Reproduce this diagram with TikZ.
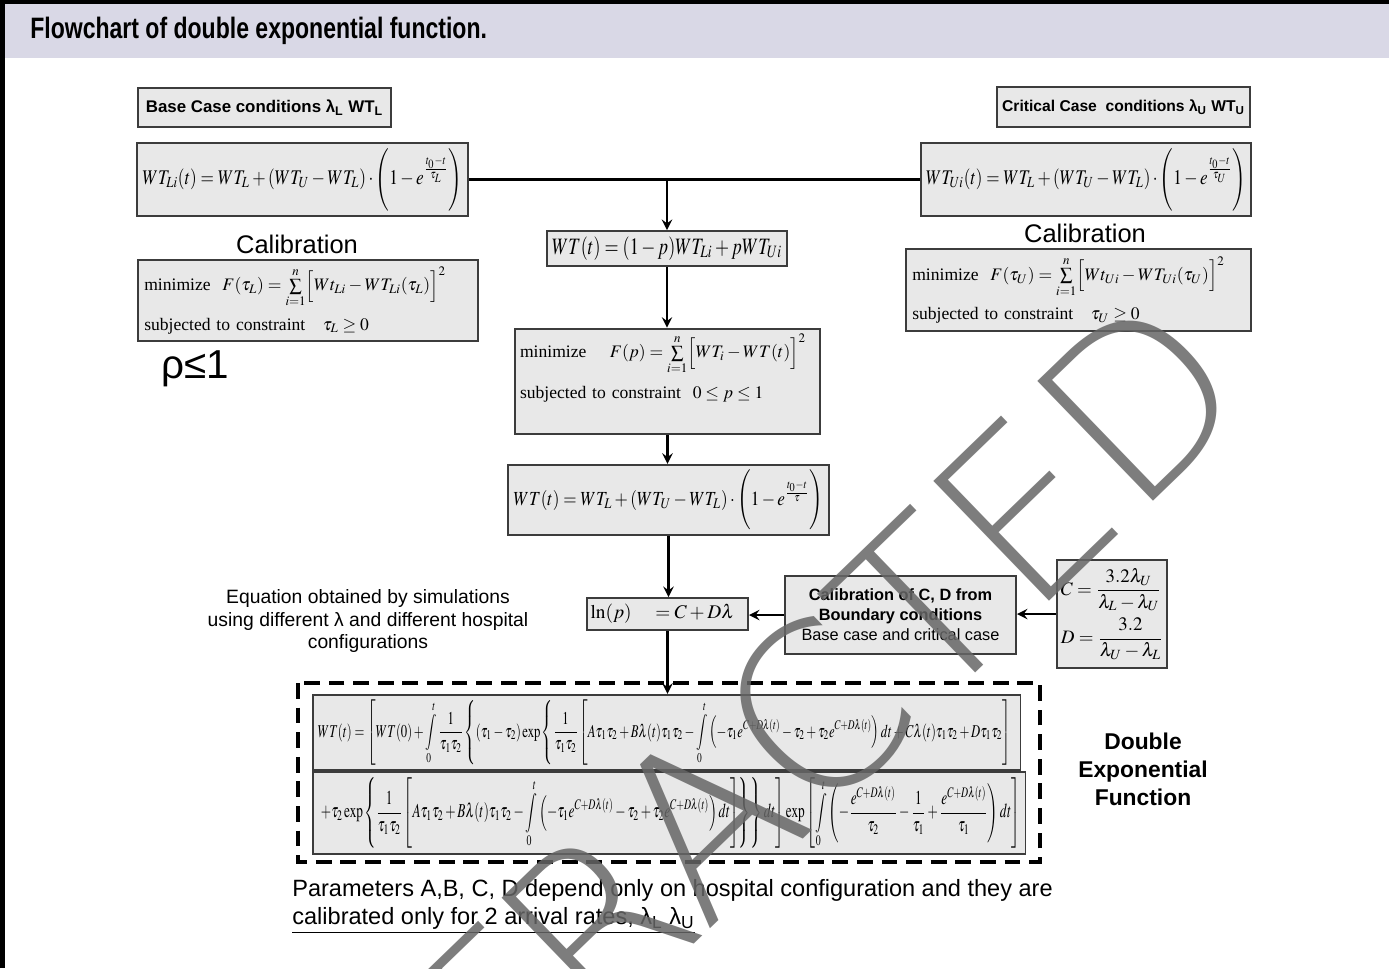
\documentclass[tikz,border=0pt]{standalone}
\usepackage{amsmath}
\usepackage{mathptmx}
\usepackage[no-math]{fontspec}
\usepackage{graphicx}
\setmainfont{Liberation Sans}
\newfontfamily\timesf{Liberation Serif}
\newfontfamily\titlef[FakeStretch=0.78]{Liberation Sans}
\IfFontExistsTF{DejaVu Sans ExtraLight}{\newfontfamily\stampf{DejaVu Sans ExtraLight}}{\newfontfamily\stampf{DejaVu Sans}}
\tikzset{>=stealth}
\definecolor{boxgray}{RGB}{232,232,232}
\definecolor{edgegray}{RGB}{60,60,60}
\definecolor{bandblue}{RGB}{217,216,230}

\begin{document}
\begin{tikzpicture}[x=0.02cm, y=-0.02cm,
    box/.style 2 args={draw=edgegray, fill=boxgray, line width=1.1pt,
        minimum width=#1*0.02cm, minimum height=#2*0.02cm, inner sep=3pt},
    flow/.style={->, line width=1.6pt},
    link/.style={line width=1.6pt},
    note/.style={align=center}]
    \useasboundingbox (0,0) rectangle (1389,968);
    \fill[bandblue] (4,4) rectangle (1389,58);
    \draw[line width=2.6pt] (2.5,968) -- (2.5,2) -- (1389,2);
    \node[anchor=west, inner sep=0pt, font=\titlef\bfseries\fontsize{16.8}{19}\selectfont] (title) at (30,31) {Flowchart of double exponential function.};

    % base case side
    \node[box={253}{39}, font=\bfseries\fontsize{9.6}{11}\selectfont] (base) at (264.5,107.5) {Base Case conditions λ\textsubscript{L} WT\textsubscript{L}};
    \node[box={329}{73}] (wtl) at (302.5,179.5) {\resizebox*{6.4cm}{1.25cm}{$\displaystyle WT_{Li}(t)=WT_L+(WT_U-WT_L)\cdot\Biggl(1-e^{\frac{t_0-t}{\tau_L}}\Biggr)$}};
    \node[font=\fontsize{14.5}{17}\selectfont] (calL) at (297,244) {Calibration};
    \node[box={340}{81}, align=left, text width=6.55cm, font=\timesf\fontsize{10}{12}\selectfont] (minL) at (308,300.5) {minimize\ \ $F(\tau_L)=\sum\limits_{i=1}^{n}\Bigl[Wt_{Li}-WT_{Li}(\tau_L)\Bigr]^2$\\[5pt]subjected to constraint\ \ \ $\tau_L\ge 0$};
    \node[font=\fontsize{23}{26}\selectfont] (rho) at (195,369) {ρ≤1};

    % critical case side
    \node[box={253}{40}, inner xsep=2pt, font=\bfseries\fontsize{8.9}{11}\selectfont] (crit) at (1123.5,107) {Critical Case\ \ conditions λ\textsubscript{U} WT\textsubscript{U}};
    \node[box={330}{73}] (wtu) at (1086,179.5) {\resizebox*{6.4cm}{1.25cm}{$\displaystyle WT_{Ui}(t)=WT_L+(WT_U-WT_L)\cdot\Biggl(1-e^{\frac{t_0-t}{\tau_U}}\Biggr)$}};
    \node[font=\fontsize{14.5}{17}\selectfont] (calR) at (1085,233) {Calibration};
    \node[box={345}{82}, align=left, text width=6.65cm, font=\timesf\fontsize{10}{12}\selectfont] (minU) at (1078.5,290) {minimize\ \ $F(\tau_U)=\sum\limits_{i=1}^{n}\Bigl[Wt_{Ui}-WT_{Ui}(\tau_U)\Bigr]^2$\\[5pt]subjected to constraint\ \ \ $\tau_U\ge 0$};

    % middle column
    \node[box={240}{35}] (mix) at (667,248.5) {\resizebox*{4.6cm}{0.47cm}{$WT(t)=(1-p)WT_{Li}+pWT_{Ui}$}};
    \node[box={305}{105}, align=left, text width=5.9cm, font=\timesf\fontsize{10}{12}\selectfont] (minp) at (667.5,381.5) {minimize\quad\ $F(p)=\sum\limits_{i=1}^{n}\Bigl[WT_i-WT(t)\Bigr]^2$\\[6pt]subjected to constraint\ \ $0\le p\le 1$\\\rule{0pt}{14pt}};
    \node[box={321}{68}] (wtt) at (668.5,500) {\resizebox*{6.2cm}{1.2cm}{$\displaystyle WT(t)=WT_L+(WT_U-WT_L)\cdot\Biggl(1-e^{\frac{t_0-t}{\tau}}\Biggr)$}};
    \node[box={161}{32}, inner xsep=2pt, align=left, text width=3.08cm, font=\fontsize{11}{13}\selectfont] (lnp) at (667.5,614) {$\ln(p)\ \ \ =C+D\lambda$};

    % boundary calibration
    \node[box={231}{78}, align=center, font=\fontsize{9.3}{11.4}\selectfont] (calcd) at (900.5,615) {\textbf{Calibration of C, D from}\\\textbf{Boundary conditions}\\Base case and critical case};
    \node[box={108}{108}, inner xsep=2pt, align=left, font=\fontsize{10.8}{13}\selectfont] (cd) at (1112,614) {$C=\dfrac{3.2\lambda_U}{\lambda_L-\lambda_U}$\\[3pt]$D=\dfrac{3.2}{\lambda_U-\lambda_L}$};
    \node[note, font=\fontsize{11}{13}\selectfont] (simtext) at (368,621) {Equation obtained by simulations\\using different λ and different hospital\\configurations};

    % double exponential function
    \draw[line width=2.2pt, dash pattern=on 9pt off 5pt] (298,683) rectangle (1040,862);
    \node[box={707}{71}] (e1) at (666.5,732.5) {\resizebox*{13.95cm}{1.3cm}{$\displaystyle WT(t)=\left[WT(0)+\int\limits_0^t\frac{1}{\tau_1\tau_2}\left\{(\tau_1-\tau_2)\exp\left\{\frac{1}{\tau_1\tau_2}\left[A\tau_1\tau_2+B\lambda(t)\tau_1\tau_2-\int\limits_0^t\left(-\tau_1e^{C+D\lambda(t)}-\tau_2+\tau_2e^{C+D\lambda(t)}\right)dt+C\lambda(t)\tau_1\tau_2+D\tau_1\tau_2\right]\right.\right.\right.$}};
    \node[box={712}{80}] (e2) at (669,813) {\resizebox*{14.05cm}{1.42cm}{$\displaystyle\left.\left.+\tau_2\exp\left\{\frac{1}{\tau_1\tau_2}\left[A\tau_1\tau_2+B\lambda(t)\tau_1\tau_2-\int\limits_0^t\left(-\tau_1e^{C+D\lambda(t)}-\tau_2+\tau_2e^{C+D\lambda(t)}\right)dt\right]\right\}\right\}dt\right]\exp\left[\int\limits_0^t\left(-\frac{e^{C+D\lambda(t)}}{\tau_2}-\frac{1}{\tau_1}+\frac{e^{C+D\lambda(t)}}{\tau_1}\right)dt\right]$}};
    \node[note, font=\bfseries\fontsize{13}{16}\selectfont] (dexp) at (1143,769) {Double\\Exponential\\Function};
    \node[anchor=north west, align=left, inner sep=0pt, font=\fontsize{13.4}{16}\selectfont] (params) at (292,879) {Parameters A,B, C, D depend only on hospital configuration and they are\\\underline{calibrated only for 2 arrival rates, λ\textsubscript{L} λ\textsubscript{U}}};

    % connectors
    \draw[link] (wtl.east) -- (wtu.west);
    \coordinate (split) at (wtl.east -| mix.north);
    \draw[flow] (split) -- (mix.north);
    \draw[flow] (mix.south) -- (mix.south |- minp.north);
    \draw[flow] (minp.south) -- (minp.south |- wtt.north);
    \draw[flow] (wtt.south) -- (wtt.south |- lnp.north);
    \draw[flow] (cd.west) -- (cd.west -| calcd.east);
    \draw[flow] (calcd.west) -- (calcd.west -| lnp.east);
    \draw[flow] (lnp.south) -- (lnp.south |- e1.north);

    % watermark
    \node[rotate=44, text=black!60, opacity=0.85, font=\stampf\fontsize{130}{130}\selectfont] (stamp) at (712,812) {RETRACTED};
\end{tikzpicture}
\end{document}
